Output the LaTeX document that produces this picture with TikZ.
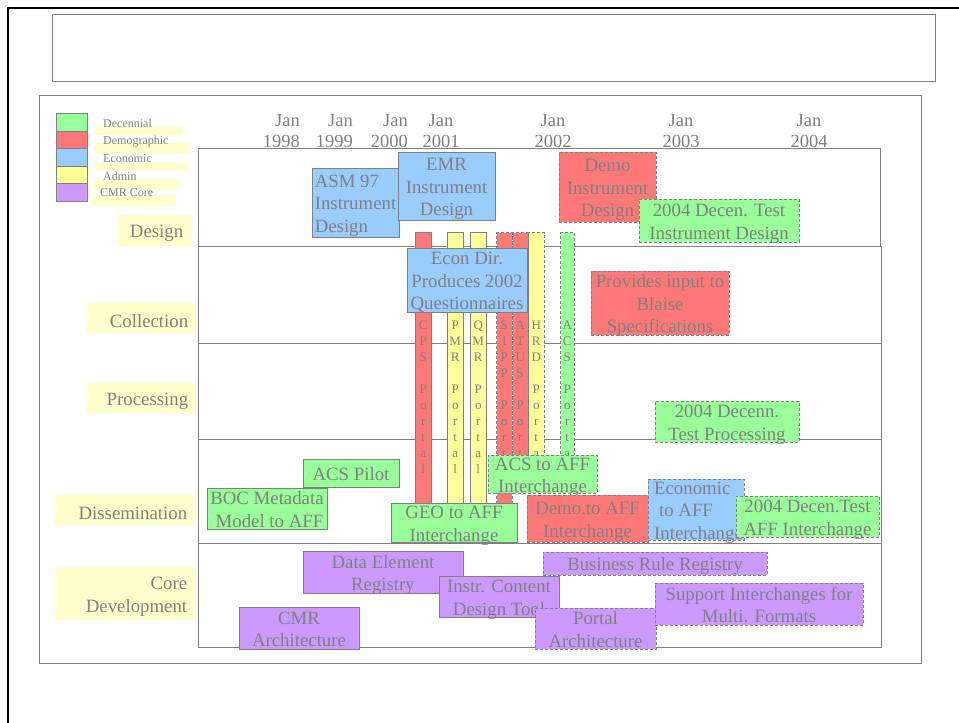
\documentclass[tikz,border=0pt]{standalone}
\usepackage{fontspec}
\setmainfont{Liberation Serif}
\definecolor{ink}{HTML}{808080}
\definecolor{edge}{HTML}{808080}
\definecolor{cDec}{HTML}{99FF99}
\definecolor{cDemo}{HTML}{FF7878}
\definecolor{cEcon}{HTML}{99CCFF}
\definecolor{cAdmin}{HTML}{FFFF99}
\definecolor{cCore}{HTML}{CC99FF}
\definecolor{tag}{HTML}{FFFFCC}
\newcommand\bodyf{\fontsize{18.8}{22.5}\selectfont}
\newcommand\headf{\fontsize{18.5}{21}\selectfont}
\newcommand\barf{\fontsize{13}{16}\selectfont}
\newcommand\legf{\fontsize{12}{14}\selectfont}
% taller first lines, so that text sits a little lower in its box
\newcommand\ts{\rule{0pt}{14.5pt}}
\newcommand\tsr{\rule{0pt}{18.5pt}}
\tikzset{
  bx/.style n args={2}{draw=edge, line width=1pt, minimum width=#1, minimum height=#2,
    inner sep=0pt, outer sep=0pt, anchor=north west, align=center, text=ink, font=\bodyf,
    text depth=0pt},
  dsh/.style={dash pattern=on 3pt off 2pt},
  barbox/.style n args={2}{draw=edge, line width=1pt, minimum width=#1, minimum height=#2,
    inner sep=0pt, anchor=north west},
  bartext/.style={text=ink, font=\barf, align=center, inner sep=0pt, anchor=north},
  rowtag/.style n args={2}{fill=tag, text width=#1-16, minimum height=#2, inner xsep=8pt,
    inner ysep=0pt, align=right, anchor=north west, text=ink, font=\bodyf},
  yr/.style={text=ink, font=\headf, inner sep=0pt},
  legsq/.style={draw=edge, line width=1pt, minimum width=31, minimum height=17.6,
    inner sep=0pt, anchor=north west},
  legtx/.style={text=ink, font=\legf, inner sep=0pt, anchor=west},
  frame/.style={draw=edge, line width=1pt},
}
\begin{document}
\begin{tikzpicture}[x=1pt,y=-1pt]
\useasboundingbox (0,0) rectangle (959,723);
\fill[white] (0,0) rectangle (959,723);

% page edge
\draw[black, line width=2.5pt] (8,723) -- (8,8) -- (959,8);

% title area and chart frame
\draw[frame] (52,14) rectangle (935,81);
\draw[frame] (39,95) rectangle (921,663);

% swim lanes
\draw[frame] (198,148) rectangle (880,246);
\draw[frame] (198,246) rectangle (881,647);
\draw[frame] (198,343) -- (881,343);
\draw[frame] (198,439) -- (881,439);
\draw[frame] (198,543) -- (881,543);

% lane tags
\node[rowtag={73}{31}] (tDesign) at (118,215) {\tsr Design};
\node[rowtag={109}{30}] (tColl) at (87,303) {\tsr Collection};
\node[rowtag={109}{30}] (tProc) at (87,383) {\tsr Processing};
\node[rowtag={140}{30}] (tDiss) at (55,495) {\tsr Dissemination};
\node[rowtag={140}{53}] (tCore) at (55,567) {\tsr Core\\Development};

% legend
\fill[tag] (95,127) rectangle (183,135);
\fill[tag] (95,143) rectangle (189,154);
\fill[tag] (95,163) rectangle (188,171);
\fill[tag] (94,179) rectangle (177,190);
\fill[tag] (92,195) rectangle (175,206);
\node[legsq, fill=cDec] (lg1) at (56,113) {};
\node[legsq, fill=cDemo] (lg2) at (56,130.6) {};
\node[legsq, fill=cEcon] (lg3) at (56,148.2) {};
\node[legsq, fill=cAdmin] (lg4) at (56,165.8) {};
\node[legsq, fill=cCore] (lg5) at (56,183.4) {};
\node[legtx] (lt1) at (103,123.5) {Decennial};
\node[legtx] (lt2) at (103,141.5) {Demographic};
\node[legtx] (lt3) at (103,158.5) {Economic};
\node[legtx] (lt4) at (103,176.5) {Admin};
\node[legtx] (lt5) at (100,192.5) {CMR Core};

% time axis
\node[yr, align=right, anchor=east] (y98) at (300,131.5) {Jan\\1998};
\node[yr, align=right, anchor=east] (y99) at (353,131.5) {Jan\\1999};
\node[yr, align=right, anchor=east] (y00) at (408,131.5) {Jan\\2000};
\node[yr, align=center] (y01) at (441,131.5) {Jan\\2001};
\node[yr, align=center] (y02) at (553,131.5) {Jan\\2002};
\node[yr, align=center] (y03) at (681,131.5) {Jan\\2003};
\node[yr, align=center] (y04) at (809,131.5) {Jan\\2004};

% design
\node[bx={87}{69}, fill=cEcon, align=left] (asm) at (312,168) {\ts ASM 97\\Instrument\\Design};
\node[bx={97}{68}, fill=cEcon] (emr) at (398,152) {\ts EMR\\Instrument\\Design};
\node[bx={97}{70}, fill=cDemo, dsh] (demoI) at (559,152) {\ts Demo\\Instrument\\Design};
\node[bx={160}{43}, fill=cDec, dsh] (decI) at (639,199) {\ts 2004 Decen. Test\\Instrument Design};

% portals
\node[barbox={15.5}{271}, fill=cDemo] (cps) at (415,232) {};
\node[barbox={15.5}{271}, fill=cAdmin] (pmr) at (447,232) {};
\node[barbox={15.5}{271}, fill=cAdmin] (qmr) at (470,232) {};
\node[barbox={15.5}{271}, fill=cDemo, dsh] (sipp) at (496,232) {};
\node[barbox={15.5}{250}, fill=cDemo, dsh] (atus) at (512,232) {};
\node[barbox={15.5}{250}, fill=cAdmin, dsh] (hrd) at (528,232) {};
\node[barbox={13.5}{250}, fill=cDec, dsh] (acsp) at (560,232) {};
\node[bartext] (cpsT) at (cps.center |- 0,320.5) {C\\P\\S\\[16pt]P\\o\\r\\t\\a\\l};
\node[bartext] (pmrT) at (pmr.center |- 0,320.5) {P\\M\\R\\[16pt]P\\o\\r\\t\\a\\l};
\node[bartext] (qmrT) at (qmr.center |- 0,320.5) {Q\\M\\R\\[16pt]P\\o\\r\\t\\a\\l};
\node[bartext] (sippT) at (sipp.center |- 0,320.5) {S\\I\\P\\P\\[16pt]P\\o\\r\\t\\a\\l};
\node[bartext] (atusT) at (atus.center |- 0,320.5) {A\\T\\U\\S\\[16pt]P\\o\\r\\t\\a\\l};
\node[bartext] (hrdT) at (hrd.center |- 0,320.5) {H\\R\\D\\[16pt]P\\o\\r\\t\\a\\l};
\node[bartext] (acspT) at (acsp.center |- 0,320.5) {A\\C\\S\\[16pt]P\\o\\r\\t\\a\\l};

% collection
\node[bx={120}{64}, fill=cEcon] (econ) at (407,248) {\ts Econ Dir.\\Produces 2002\\Questionnaires};
\node[bx={138}{64}, fill=cDemo, dsh] (blaise) at (591,271) {\ts Provides input to\\Blaise\\Specifications};

% processing
\node[bx={144}{41}, fill=cDec, dsh] (decP) at (655,401) {\ts 2004 Decenn.\\Test Processing};

% dissemination
\node[bx={96}{28}, fill=cDec] (acsPilot) at (303,459) {\ts ACS Pilot};
\node[bx={120}{41}, fill=cDec] (boc) at (207,488) {\ts BOC Metadata\\\hspace*{5pt}Model to AFF};
\node[bx={126}{39}, fill=cDec] (geo) at (391,503) {\ts GEO to AFF\\Interchange};
\node[bx={109}{38}, fill=cDec, dsh] (acsAff) at (488,455) {\ts ACS to AFF\\Interchange};
\node[bx={121}{47}, fill=cDemo, dsh] (demoAff) at (527,495) {\ts Demo.to AFF\\Interchange};
\node[bx={96}{61}, fill=cEcon, dsh, align=left] (econAff) at (648,479) {\ts\hspace*{5pt}Economic\\\hspace*{10pt}to AFF\\\hspace*{5pt}Interchange};
\node[bx={143}{41}, fill=cDec, dsh] (decAff) at (736,496) {\ts 2004 Decen.Test\\AFF Interchange};

% core development
\node[bx={160}{42}, fill=cCore] (der) at (303,551) {\ts Data Element\\Registry};
\node[bx={120}{42}, fill=cCore] (cmr) at (239,607) {\ts CMR\\Architecture};
\node[bx={120}{41}, fill=cCore] (icd) at (439,576) {\ts Instr. Content\\Design Tool};
\node[bx={224}{23}, fill=cCore, dsh] (brr) at (543,552) {\ts Business Rule Registry};
\node[bx={121}{41}, fill=cCore, dsh] (portal) at (535,608) {\ts Portal\\Architecture};
\node[bx={208}{42}, fill=cCore, dsh] (multi) at (655,583) {\ts Support Interchanges for\\Multi. Formats};
\end{tikzpicture}
\end{document}
